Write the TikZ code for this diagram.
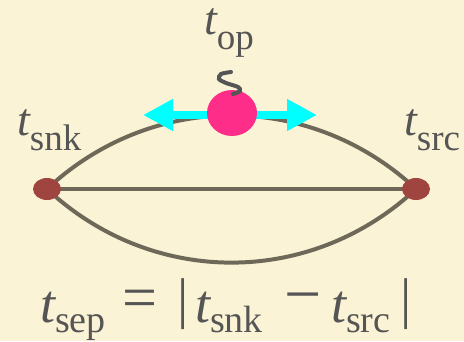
\documentclass[tikz,border=0pt]{standalone}
\usepackage{fontspec}
\setmainfont{Liberation Serif}
\newfontfamily\tfont{Liberation Serif}
\usetikzlibrary{arrows.meta,shapes.geometric,backgrounds}
\definecolor{bg}{RGB}{251,243,213}
\definecolor{linec}{RGB}{110,104,88}
\definecolor{dotc}{RGB}{160,68,64}
\definecolor{pinkc}{RGB}{255,45,138}
\definecolor{cyanc}{RGB}{0,255,255}
\definecolor{textc}{RGB}{85,85,85}
% #1 main size, #2 sub size, #3 drop, #4 subscript
\newcommand{\tvar}[4]{{\tfont\fontsize{#1}{#1}\selectfont\itshape t}\raisebox{-#3}{\tfont\fontsize{#2}{#2}\selectfont\upshape #4}}
\begin{document}
\begin{tikzpicture}[x=1pt,y=1pt]
\tikzset{
 enddot/.style={ellipse, fill=dotc, minimum width=28pt, minimum height=22pt, inner sep=0pt},
 opdot/.style={ellipse, fill=pinkc, minimum width=50pt, minimum height=46pt, inner sep=0pt},
 prop/.style={draw=linec, line width=4pt},
 lab/.style={text=textc, inner sep=0pt, anchor=base west, font=\tfont},
 sym/.style={text=textc, inner sep=0pt, anchor=center},
 movearrow/.style={draw=cyanc, line width=8pt, -{Triangle[length=30pt,width=30pt]}},
 squig/.style={draw=textc, line width=4pt, line cap=round}
}
\begin{scope}[on background layer]
\fill[bg] (0,0) rectangle (464,341);
\end{scope}
\useasboundingbox (0,0) rectangle (464,341);
\node[enddot] (snk) at (47,152) {};
\node[enddot] (src) at (416,152) {};
\coordinate (opc) at (232,226);
\coordinate (ltip) at (143,226);
\coordinate (rtip) at (317,226);
\begin{scope}[on background layer]
\draw[prop] (snk.center) -- (src.center);
\draw[prop] (snk.center) to[bend left=43] (src.center);
\draw[prop] (snk.center) to[bend right=43] (src.center);
\end{scope}
\draw[movearrow] (opc) -- (ltip);
\draw[movearrow] (opc) -- (rtip);
\node[opdot] (op) at (232,228) {};
\draw[squig] plot[smooth] coordinates {(231,269) (221,267) (219,262) (226,258) (238,254) (240,250) (233,247)};
% labels
\node[lab] (ltop) at (204,306) {\tvar{46}{37}{15pt}{op}};
\node[lab] (lsnk) at (17,206) {\tvar{46}{37}{15pt}{snk}};
\node[lab] (lsrc) at (404,206) {\tvar{46}{37}{15pt}{src}};
% formula
\node[lab] (fsep) at (40,19) {\tvar{54}{38}{10pt}{sep}};
\node[sym, font=\tfont\fontsize{62}{62}\selectfont] (feq) at (139.5,36.5) {=};
\node[sym, font=\tfont\fontsize{56}{56}\selectfont] (fbar1) at (183,37) {|};
\node[lab] (fsnk) at (195,19) {\tvar{54}{38}{10pt}{snk}};
\node[sym, font=\tfont\fontsize{66}{66}\selectfont] (fminus) at (303.5,36) {−};
\node[lab] (fsrc) at (331,19) {\tvar{54}{38}{10pt}{src}};
\node[sym, font=\tfont\fontsize{56}{56}\selectfont] (fbar2) at (406,37) {|};
\end{tikzpicture}
\end{document}
